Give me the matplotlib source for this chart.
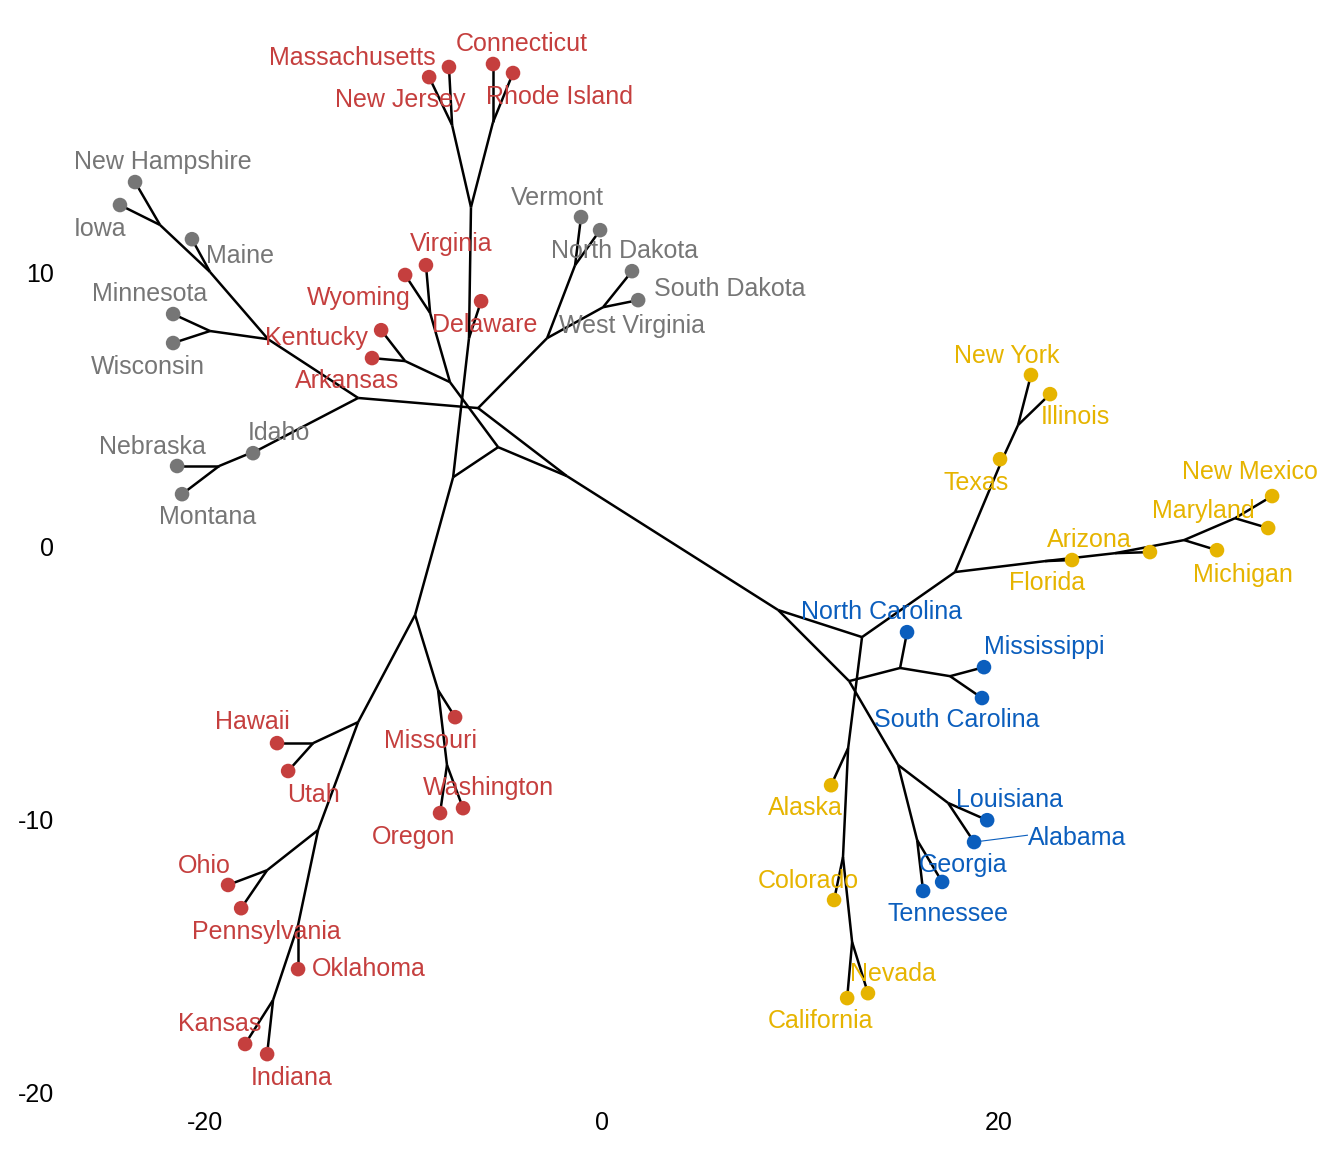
import matplotlib
matplotlib.use("Agg")
import matplotlib.pyplot as plt

plt.rcParams['font.family'] = ['Liberation Sans', 'DejaVu Sans']
plt.rcParams['axes.unicode_minus'] = False

# cluster colours (red, grey, yellow, blue)
cluster_colors = {1: '#C53F3E', 2: '#767676', 3: '#E6B400', 4: '#0B5EBD'}

# leaves: state name, position of the tip, cluster
states = ['Massachusetts', 'New Jersey', 'Connecticut', 'Rhode Island', 'Delaware',
          'Wyoming', 'Virginia', 'Kentucky', 'Arkansas',
          'Missouri', 'Oregon', 'Washington', 'Hawaii', 'Utah', 'Ohio', 'Pennsylvania',
          'Oklahoma', 'Kansas', 'Indiana',
          'New Hampshire', 'Iowa', 'Maine', 'Minnesota', 'Wisconsin', 'Idaho', 'Nebraska',
          'Montana', 'Vermont', 'North Dakota', 'South Dakota', 'West Virginia',
          'New York', 'Illinois', 'Texas', 'New Mexico', 'Maryland', 'Arizona', 'Florida',
          'Michigan', 'Alaska', 'Colorado', 'California', 'Nevada',
          'North Carolina', 'Mississippi', 'South Carolina', 'Louisiana', 'Alabama',
          'Georgia', 'Tennessee']
tip_x = [-7.72, -8.72, -5.50, -4.49, -6.10,
         -9.93, -8.88, -11.14, -11.60,
         -7.41, -8.17, -7.01, -16.39, -15.83, -18.86, -18.20,
         -15.33, -18.00, -16.89,
         -23.55, -24.31, -20.68, -21.63, -21.63, -17.60, -21.43,
         -21.18, -1.06, -0.10, 1.51, 1.82,
         21.63, 22.59, 20.07, 33.79, 33.59, 27.63, 23.70,
         31.01, 11.55, 11.70, 12.36, 13.41,
         15.38, 19.26, 19.16, 19.42, 18.76,
         17.15, 16.19]
tip_y = [17.53, 17.16, 17.64, 17.31, 8.96,
         9.92, 10.28, 7.90, 6.88,
         -6.26, -9.77, -9.59, -7.21, -8.23, -12.40, -13.25,
         -15.48, -18.22, -18.59,
         13.32, 12.48, 11.23, 8.49, 7.43, 3.40, 2.93,
         1.90, 12.04, 11.56, 10.06, 9.00,
         6.26, 5.56, 3.18, 1.83, 0.66, -0.22, -0.51,
         -0.15, -8.75, -12.95, -16.54, -16.36,
         -3.15, -4.43, -5.56, -10.03, -10.83,
         -12.29, -12.62]
cluster = [1] * 19 + [2] * 12 + [3] * 12 + [4] * 7

# label anchor points (where the repelled labels ended up)
label_x = [-12.61, -10.19, -4.03, -2.17, -5.90,
           -12.25, -7.61, -14.42, -12.86,
           -8.67, -9.48, -5.75, -17.65, -14.57, -20.07, -16.94,
           -11.75, -19.26, -15.63,
           -22.14, -25.32, -18.26, -22.84, -22.89, -16.29, -22.69,
           -19.87, -2.27, 1.11, 6.45, 1.51,
           20.42, 23.85, 18.86, 32.68, 30.31, 24.56, 22.44,
           32.32, 10.24, 10.39, 11.04, 14.67,
           14.12, 22.29, 17.90, 20.57, 23.95,
           18.20, 17.45]
label_y = [17.86, 16.32, 18.37, 16.43, 8.09,
           9.07, 11.05, 7.61, 6.04,
           -7.13, -10.65, -8.85, -6.44, -9.11, -11.71, -14.12,
           -15.48, -17.49, -19.47,
           14.05, 11.60, 10.61, 9.22, 6.55, 4.13, 3.62,
           1.06, 12.73, 10.79, 9.40, 8.05,
           6.95, 4.72, 2.31, 2.71, 1.28, 0.22, -1.35,
           -1.06, -9.59, -12.26, -17.38, -15.66,
           -2.41, -3.70, -6.37, -9.29, -10.68,
           -11.67, -13.47]

# internal nodes of the unrooted tree
node_names = ['ne', 'manj', 'ctri', 'del', 'D', 'C', 'B', 'wv', 'ka', 'E', 'A', 'H',
              'vt', 'sd', 'G', 'mw', 'mnwi', 'me', 'nhia', 'id', 'nemt',
              'S', 'huup', 'hu', 'op', 'ohpa', 'ok', 'ki', 'mo', 'ow',
              'F', 'I', 'J', 'T', 'tx', 'U', 'W', 'X', 'V', 'Y', 'M', 'Q', 'R',
              'K', 'N', 'L', 'O', 'P']
node_x = [-6.61, -7.56, -5.50, -6.71, -7.51, -5.24, -7.67, -8.67, -9.93, -1.77, -6.25, -2.77,
          -1.36, 0.05, -12.30, -16.84, -19.77, -19.77, -22.29, -17.25, -19.31,
          -9.43, -12.30, -14.57, -14.32, -16.89, -15.33, -16.59, -8.27, -7.82,
          8.88, 13.11, 12.46, 17.80, 20.17, 20.98, 22.34, 25.87, 29.35, 31.92, 12.41, 12.15, 12.61,
          15.03, 17.55, 14.93, 17.45, 15.89]
node_y = [12.40, 15.40, 15.51, 7.61, 2.52, 3.62, 6.00, 8.53, 6.77, 2.56, 5.05, 7.61,
          10.28, 8.74, 5.42, 7.57, 7.87, 10.03, 11.75, 3.55, 2.93,
          -2.52, -6.44, -7.21, -10.39, -11.86, -13.87, -16.61, -5.27, -8.01,
          -2.34, -3.33, -4.94, -0.95, 3.15, 4.43, -0.55, -0.26, 0.22, 1.02, -7.39, -11.38, -14.49,
          -4.46, -4.76, -8.01, -9.40, -10.76]

edges = [('ne', 'manj'), ('manj', 'Massachusetts'), ('manj', 'New Jersey'),
         ('ne', 'ctri'), ('ctri', 'Connecticut'), ('ctri', 'Rhode Island'),
         ('ne', 'del'), ('del', 'Delaware'), ('del', 'D'),
         ('D', 'C'), ('D', 'S'), ('C', 'B'), ('C', 'E'),
         ('B', 'wv'), ('wv', 'Wyoming'), ('wv', 'Virginia'),
         ('B', 'ka'), ('ka', 'Kentucky'), ('ka', 'Arkansas'),
         ('E', 'A'), ('E', 'F'), ('A', 'H'), ('A', 'G'),
         ('H', 'vt'), ('vt', 'Vermont'), ('vt', 'North Dakota'),
         ('H', 'sd'), ('sd', 'South Dakota'), ('sd', 'West Virginia'),
         ('G', 'mw'), ('mw', 'mnwi'), ('mnwi', 'Minnesota'), ('mnwi', 'Wisconsin'),
         ('mw', 'me'), ('me', 'Maine'), ('me', 'nhia'), ('nhia', 'New Hampshire'), ('nhia', 'Iowa'),
         ('G', 'id'), ('id', 'Idaho'), ('id', 'nemt'), ('nemt', 'Nebraska'), ('nemt', 'Montana'),
         ('S', 'huup'), ('S', 'mo'), ('mo', 'Missouri'), ('mo', 'ow'), ('ow', 'Oregon'), ('ow', 'Washington'),
         ('huup', 'hu'), ('hu', 'Hawaii'), ('hu', 'Utah'),
         ('huup', 'op'), ('op', 'ohpa'), ('ohpa', 'Ohio'), ('ohpa', 'Pennsylvania'),
         ('op', 'ok'), ('ok', 'Oklahoma'), ('ok', 'ki'), ('ki', 'Kansas'), ('ki', 'Indiana'),
         ('F', 'I'), ('F', 'J'), ('I', 'T'), ('I', 'M'),
         ('T', 'tx'), ('tx', 'Texas'), ('tx', 'U'), ('U', 'New York'), ('U', 'Illinois'),
         ('T', 'W'), ('W', 'Florida'), ('W', 'X'), ('X', 'Arizona'), ('X', 'V'),
         ('V', 'Michigan'), ('V', 'Y'), ('Y', 'New Mexico'), ('Y', 'Maryland'),
         ('M', 'Alaska'), ('M', 'Q'), ('Q', 'Colorado'), ('Q', 'R'), ('R', 'California'), ('R', 'Nevada'),
         ('J', 'K'), ('K', 'North Carolina'), ('K', 'N'), ('N', 'Mississippi'), ('N', 'South Carolina'),
         ('J', 'L'), ('L', 'O'), ('O', 'Louisiana'), ('O', 'Alabama'),
         ('L', 'P'), ('P', 'Georgia'), ('P', 'Tennessee')]

pos = {n: (x, y) for n, x, y in zip(node_names, node_x, node_y)}
pos.update({s: (x, y) for s, x, y in zip(states, tip_x, tip_y)})

fig = plt.figure(figsize=(13.44, 11.52), dpi=100)
ax = fig.add_axes([0.0484, 0.0451, 0.9412, 0.9418])

for a, b in edges:
    ax.plot([pos[a][0], pos[b][0]], [pos[a][1], pos[b][1]], color='black', lw=1.8,
            solid_capstyle='butt', zorder=1)

cols = [cluster_colors[c] for c in cluster]
ax.scatter(tip_x, tip_y, s=110, c=cols, zorder=3, linewidths=0)

for s, lx, ly, c, tx, ty in zip(states, label_x, label_y, cols, tip_x, tip_y):
    ax.text(lx, ly, s, color=c, fontsize=18, ha='center', va='center', zorder=4)
    if s == 'Alabama':
        # ggrepel leader segment
        ax.plot([tx, lx - 2.5], [ty, ly + 0.1], color=c, lw=0.8, zorder=2)

ax.set_xlim(-27.08, 36.71)
ax.set_ylim(-20.27, 19.43)
ax.set_xticks([-20, 0, 20])
ax.set_yticks([-20, -10, 0, 10])
ax.tick_params(length=0, labelsize=18, pad=8)
for sp in ax.spines.values():
    sp.set_visible(False)

fig.savefig('out.png', dpi=100)
